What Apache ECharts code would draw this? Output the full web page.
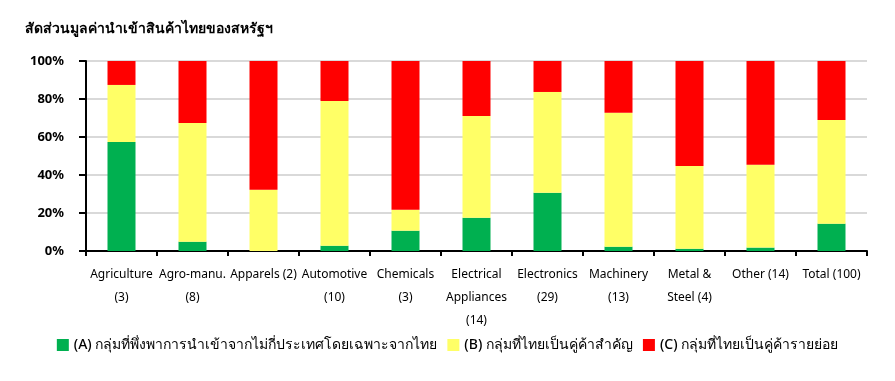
<!DOCTYPE html>
<html><head><meta charset="utf-8">
<script src="https://cdn.jsdelivr.net/npm/echarts@6/dist/echarts.min.js"></script>
<style>html,body{margin:0;padding:0;background:#fff}#c{width:895px;height:381px}</style>
</head><body><div id="c"></div>
<script>
const title = 'สัดส่วนมูลค่านำเข้าสินค้าไทยของสหรัฐฯ';
const categories = ['Agriculture\n(3)', 'Agro-manu.\n(8)', 'Apparels (2)', 'Automotive\n(10)', 'Chemicals\n(3)', 'Electrical\nAppliances\n(14)', 'Electronics\n(29)', 'Machinery\n(13)', 'Metal &\nSteel (4)', 'Other (14)', 'Total (100)'];
const seriesNames = ['(A) กลุ่มที่พึ่งพาการนำเข้าจากไม่กี่ประเทศโดยเฉพาะจากไทย', '(B) กลุ่มที่ไทยเป็นคู่ค้าสำคัญ', '(C) กลุ่มที่ไทยเป็นคู่ค้ารายย่อย'];
const groupA = [57.4, 4.9, 0, 2.8, 10.7, 17.5, 30.6, 2.3, 1.2, 1.8, 14.4];
const groupB = [30.0, 62.5, 32.2, 76.2, 11.0, 53.6, 53.1, 70.4, 43.6, 43.6, 54.6];
const groupC = [12.6, 32.6, 67.8, 21.0, 78.3, 28.9, 16.3, 27.3, 55.2, 54.6, 31.0];
const yTicks = [0, 20, 40, 60, 80, 100];
const colors = ['#00b050', '#ffff66', '#ff0000'];

const font = 'Tahoma, "Noto Sans", "DejaVu Sans", sans-serif';
const chart = echarts.init(document.getElementById('c'));
const data = [groupA, groupB, groupC];
chart.setOption({
  animation: false,
  title: { text: title, left: 20, top: 17, textStyle: { fontFamily: font, fontSize: 14, fontWeight: 'bold', color: '#000' } },
  grid: { left: 86, right: 28, top: 61, bottom: 130 },
  legend: {
    bottom: 24, left: 'center', itemWidth: 12, itemHeight: 12, itemGap: 10,
    icon: 'rect',
    textStyle: { fontFamily: font, fontSize: 14, fontWeight: 500, color: '#000' },
    data: seriesNames
  },
  xAxis: {
    type: 'category', data: categories,
    axisLine: { lineStyle: { color: '#000', width: 2 } },
    axisTick: { show: true, length: 5, lineStyle: { color: '#000', width: 2 } },
    axisLabel: { interval: 0, margin: 12, fontFamily: font, fontSize: 12, color: '#000', lineHeight: 23 }
  },
  yAxis: {
    type: 'value', min: yTicks[0], max: yTicks[yTicks.length - 1], interval: 20,
    axisLine: { show: true, lineStyle: { color: '#000', width: 2 } },
    axisTick: { show: true, length: 7, lineStyle: { color: '#000', width: 2 } },
    splitLine: { lineStyle: { color: '#d9d9d9', width: 2 } },
    axisLabel: { margin: 22, fontFamily: font, fontSize: 13, fontWeight: 'bold', color: '#000', formatter: '{value}%' }
  },
  series: data.map((d, i) => ({
    name: seriesNames[i], type: 'bar', stack: 'all', data: d, barWidth: 28,
    itemStyle: { color: colors[i] }
  }))
});
</script></body></html>
